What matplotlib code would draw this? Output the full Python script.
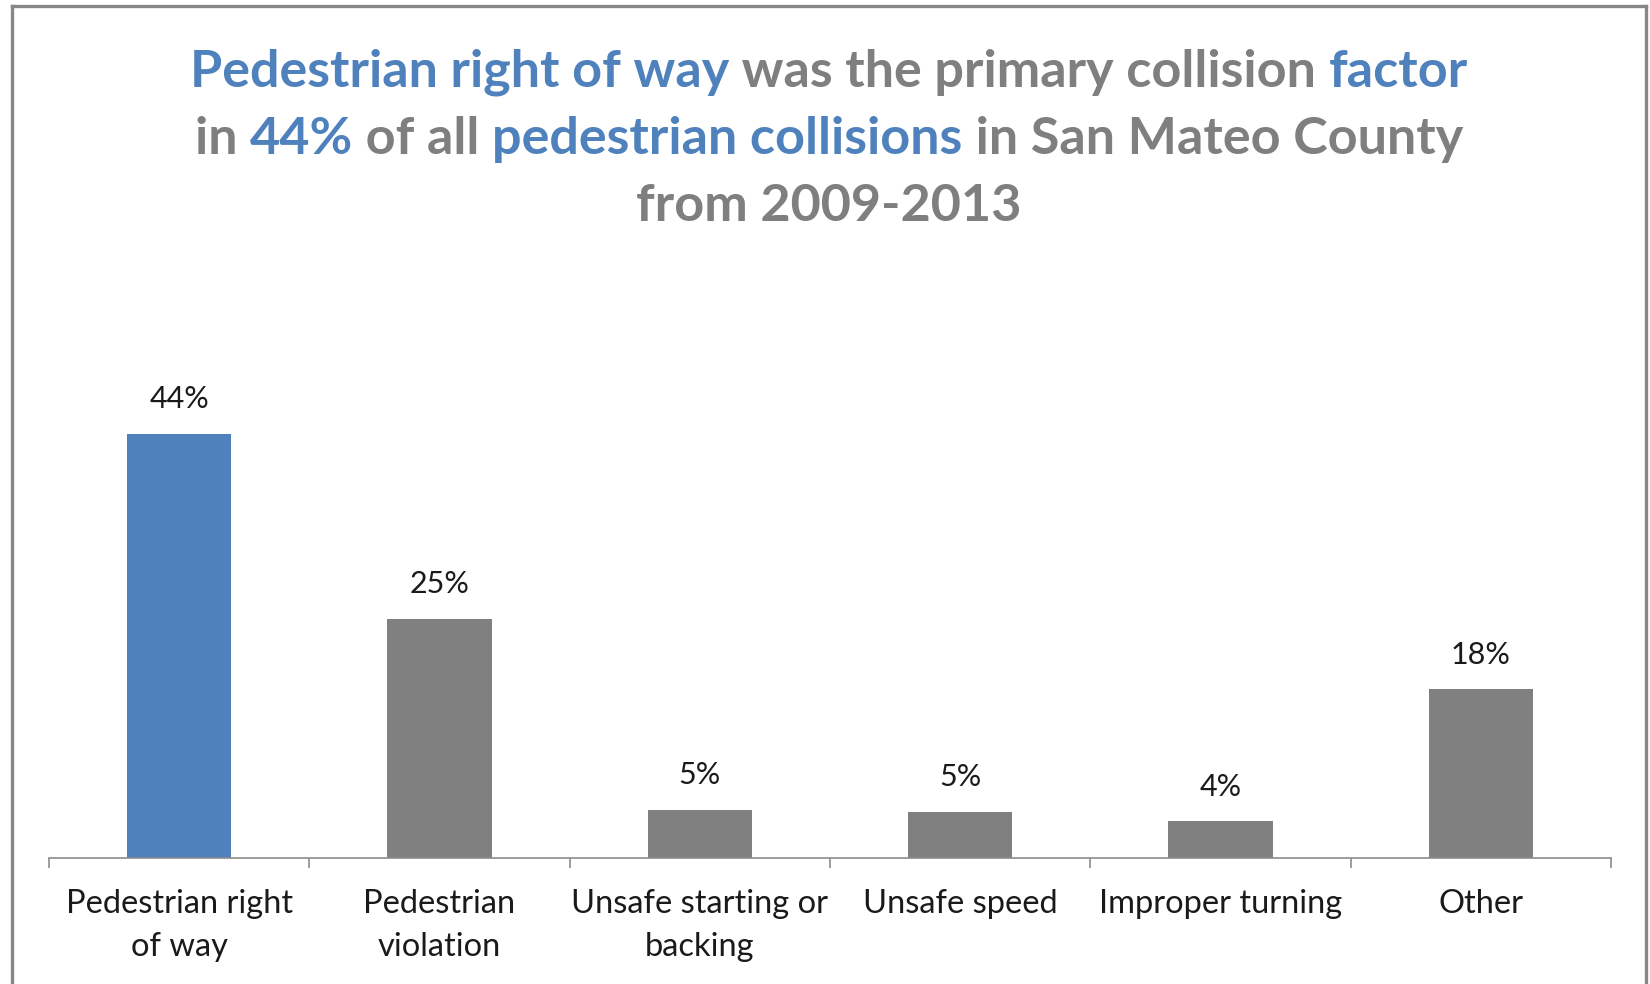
import matplotlib.pyplot as plt
from matplotlib.lines import Line2D

# data (percent of pedestrian collisions)
categories = ["Pedestrian right\nof way", "Pedestrian\nviolation",
              "Unsafe starting or\nbacking", "Unsafe speed",
              "Improper turning", "Other"]
shares = [44.0, 24.8, 5.0, 4.8, 3.8, 17.5]
highlight = 0  # index of the bar drawn in blue

BLUE = '#4F81BD'
GRAY = '#7F7F7F'
BAR_GRAY = '#808080'

# title pieces: (text, colour)
title_lines = [
    [("Pedestrian right of way", BLUE), (" was the primary collision ", GRAY), ("factor", BLUE)],
    [("in ", GRAY), ("44%", BLUE), (" of all ", GRAY), ("pedestrian collisions", BLUE),
     (" in San Mateo County", GRAY)],
    [("from 2009-2013", GRAY)],
]

W, H = 1650, 984
fig = plt.figure(figsize=(W / 100, H / 100), dpi=100)
plt.rcParams['font.family'] = ['Lato', 'DejaVu Sans']

# plot area: baseline at y=858px, x from 49 to 1611px
ymax = 58
ax = fig.add_axes([49 / W, 1 - 858 / H, (1611 - 49) / W, (ymax * 9.636) / H])
x = list(range(len(categories)))
colors = [BLUE if i == highlight else BAR_GRAY for i in x]
bars = ax.bar(x, shares, width=0.4, color=colors)
ax.set_xlim(-0.5, len(categories) - 0.5)
ax.set_ylim(0, ymax)

for b, v in zip(bars, shares):
    ax.annotate(f"{v:.0f}%", (b.get_x() + b.get_width() / 2, v),
                xytext=(0, 25), textcoords='offset points',
                ha='center', va='center', fontsize=22, color='#1a1a1a')

ax.set_xticks(x, categories)
ax.set_xticks([i - 0.5 for i in range(len(categories) + 1)], minor=True)
ax.tick_params(axis='x', which='major', length=0, pad=22, labelsize=23.5,
               labelcolor='#1a1a1a')
ax.tick_params(axis='x', which='minor', length=7.5, width=1.2,
               color='#8c8c8c', direction='out')
for lbl in ax.get_xticklabels():
    lbl.set_linespacing(1.55)
ax.set_yticks([])
for s in ['left', 'top', 'right']:
    ax.spines[s].set_visible(False)
ax.spines['bottom'].set_color('#8c8c8c')
ax.spines['bottom'].set_linewidth(1.2)

# multi-coloured title, each line centred at x=829px
renderer = fig.canvas.get_renderer()
tkw = dict(fontsize=37.5, fontweight='bold')


def text_w(s):
    t = fig.text(0, 0, s, **tkw)
    w = t.get_window_extent(renderer).width
    t.remove()
    return w


baselines = [87, 154, 221]
for segs, yb in zip(title_lines, baselines):
    full = ''.join(s for s, _ in segs)
    x0 = 829 - text_w(full) / 2
    prefix = ''
    for s, c in segs:
        off = text_w(prefix + 'x') - text_w('x') if prefix else 0
        fig.text((x0 + off) / W, 1 - yb / H, s, color=c, ha='left',
                 va='baseline', **tkw)
        prefix += s

# outer frame (top, left, right; bottom runs off the image)
fc = '#878787'
fig.add_artist(Line2D([12 / W, 1646 / W], [1 - 5.5 / H, 1 - 5.5 / H], color=fc, lw=2.4))
fig.add_artist(Line2D([12 / W, 12 / W], [1 - 5.5 / H, 0], color=fc, lw=2.4))
fig.add_artist(Line2D([1646 / W, 1646 / W], [1 - 5.5 / H, 0], color=fc, lw=2.4))

fig.savefig('out.png', dpi=100)
